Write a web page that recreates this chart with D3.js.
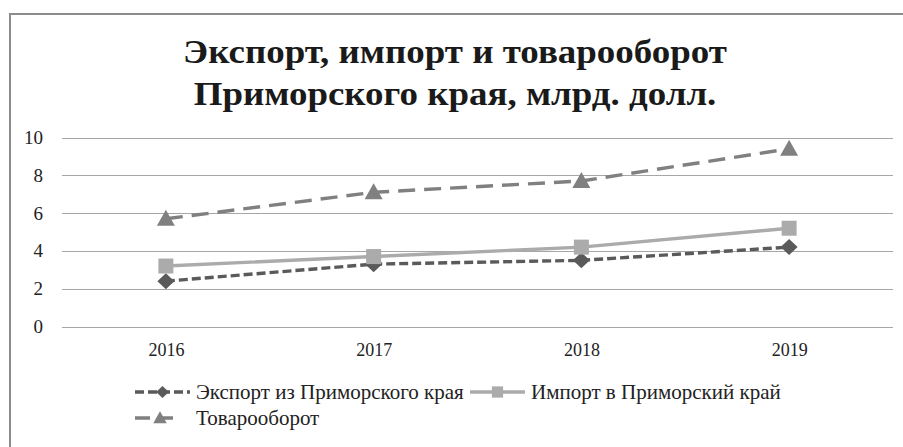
<!DOCTYPE html>
<html><head><meta charset="utf-8">
<script src="https://cdn.jsdelivr.net/npm/d3@7"></script>
<style>body{margin:0;background:#fff}svg{display:block}</style>
</head><body>
<svg id="c" width="903" height="447"></svg>
<script>
const years = ["2016","2017","2018","2019"];
const exportVals = [2.4, 3.3, 3.5, 4.2];
const importVals = [3.2, 3.7, 4.2, 5.2];
const tradeVals = [5.7, 7.1, 7.7, 9.4];
const yTicks = [0, 2, 4, 6, 8, 10];
const titleLines = ["Экспорт, импорт и товарооборот", "Приморского края, млрд. долл."];
const seriesNames = ["Экспорт из Приморского края", "Импорт в Приморский край", "Товарооборот"];

const series = [
  {name: seriesNames[0], values: exportVals, color: "#5a5a5a", dash: "9,4", marker: "diamond"},
  {name: seriesNames[1], values: importVals, color: "#ababab", dash: null, marker: "square"},
  {name: seriesNames[2], values: tradeVals, color: "#808080", dash: "17,9", marker: "triangle"}
];

const svg = d3.select("#c");
const font = "'Liberation Serif','Times New Roman',serif";

svg.append("rect").attr("x", 10).attr("y", 14).attr("width", 1000).attr("height", 1000)
  .attr("fill", "none").attr("stroke", "#8c8c8c").attr("stroke-width", 2);

svg.append("g").attr("transform", "translate(455,0) scale(1.12,1)")
  .selectAll("text").data(titleLines).join("text")
  .attr("x", 0).attr("y", (d, i) => 63 + i * 42)
  .attr("text-anchor", "middle").attr("font-family", font).attr("font-weight", "bold")
  .attr("font-size", 33).attr("fill", "#1a1a1a").text(d => d);

const x = d3.scalePoint().domain(years).range([62, 893]).padding(0.5);
const y = d3.scaleLinear().domain([0, 10]).range([326.5, 137.5]);

const grid = svg.append("g");
grid.selectAll("line").data(yTicks).join("line")
  .attr("x1", 62).attr("x2", 893)
  .attr("y1", d => Math.round(y(d)) + 0.5).attr("y2", d => Math.round(y(d)) + 0.5)
  .attr("stroke", "#a6a6a6").attr("stroke-width", 1);

const yAxis = svg.append("g").attr("transform", "translate(43,0)")
  .call(d3.axisLeft(y).tickValues(yTicks).tickSize(0).tickPadding(0));
yAxis.select(".domain").remove();
yAxis.selectAll("text").attr("font-family", font).attr("font-size", 19).attr("fill", "#222");

const xAxis = svg.append("g").attr("transform", "translate(0,343)")
  .call(d3.axisBottom(x).tickSize(0).tickPadding(0));
xAxis.select(".domain").remove();
xAxis.selectAll("text").attr("font-family", font).attr("font-size", 18).attr("fill", "#222");

function markerPath(type) {
  if (type === "diamond") return "M0,-8L8.5,0L0,8L-8.5,0Z";
  if (type === "square") return "M-7.5,-7.5H7.5V7.5H-7.5Z";
  return "M0,-9L9,7L-9,7Z";
}

const line = d3.line().x((d, i) => x(years[i])).y(d => y(d));
series.forEach(s => {
  const g = svg.append("g");
  g.append("path").attr("d", line(s.values)).attr("fill", "none")
    .attr("stroke", s.color).attr("stroke-width", 3.4)
    .attr("stroke-dasharray", s.dash);
  g.selectAll("path.m").data(s.values).join("path").attr("class", "m")
    .attr("transform", (d, i) => `translate(${x(years[i])},${y(d)})`)
    .attr("d", markerPath(s.marker)).attr("fill", s.color);
});

// legend
const legendPos = [{x: 135, y: 392, len: 55, mx: 27.5, dash: "9,4"},
                   {x: 470, y: 392, len: 55, mx: 27.5, dash: null},
                   {x: 135, y: 418, len: 43, mx: 25, dash: "15,8"}];
series.forEach((s, i) => {
  const p = legendPos[i];
  const g = svg.append("g").attr("transform", `translate(${p.x},${p.y})`);
  g.append("line").attr("x1", 0).attr("x2", p.len).attr("y1", 0).attr("y2", 0)
    .attr("stroke", s.color).attr("stroke-width", 3.4)
    .attr("stroke-dasharray", p.dash);
  g.append("path").attr("transform", `translate(${p.mx},0) scale(0.75)`).attr("d", markerPath(s.marker)).attr("fill", s.color);
  g.append("text").attr("x", 61).attr("y", 0).attr("dy", "0.33em")
    .attr("font-family", font).attr("font-size", 21).attr("fill", "#222").text(s.name);
});
</script>
</body></html>
